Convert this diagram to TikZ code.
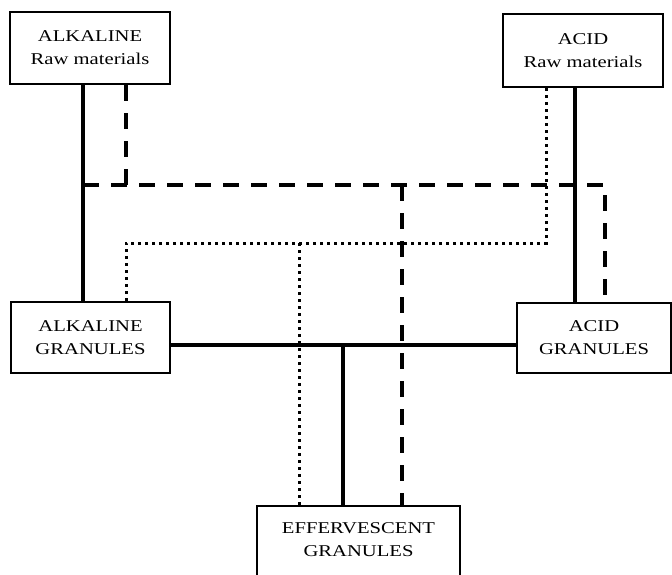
\documentclass[tikz,border=0pt]{standalone}
\usepackage{fontspec}
\setmainfont{Liberation Serif}[FakeStretch=1.25]
\begin{document}
\begin{tikzpicture}[x=1pt,y=-1pt,
  box/.style={draw,line width=2pt,fill=white,align=center,inner sep=0pt,
    font=\fontsize{16.5}{23}\selectfont},
  solidline/.style={line width=3.4pt},
  dashline/.style={line width=3.4pt,dash pattern=on 16pt off 12pt},
  dotline/.style={line width=3pt,dash pattern=on 3pt off 4pt}]
\useasboundingbox (0,0) rectangle (672,574);
\clip (0,0) rectangle (672,574);
% coordinates of junctions
\coordinate (dL) at (83,185);
\coordinate (dK) at (126,185);
\coordinate (dM) at (402,185);
\coordinate (dR) at (605,185);
\coordinate (pR) at (546,243);
\coordinate (pL) at (126,243);
\coordinate (pM) at (299,243);
\coordinate (sM) at (343,345);
% nodes
\node[box,minimum width=160pt,minimum height=72pt] (alkraw) at (90,48) {ALKALINE\\Raw materials};
\node[box,minimum width=160pt,minimum height=73pt] (acidraw) at (583,50.5) {ACID\\Raw materials};
\node[box,minimum width=159pt,minimum height=71pt] (alkgran) at (90.5,337.5) {ALKALINE\\GRANULES};
\node[box,minimum width=154pt,minimum height=70pt] (acidgran) at (594,337.5) {ACID\\GRANULES};
\node[box,minimum width=203pt,anchor=north,text depth=40pt] (effgran) at (358.5,505) {\rule{0pt}{27pt}EFFERVESCENT\\GRANULES};
% solid lines
\draw[solidline] ([xshift=-7pt]alkraw.south) -- ([xshift=-7.5pt]alkgran.north);
\draw[solidline] ([xshift=-8pt]acidraw.south) -- ([xshift=-19pt]acidgran.north);
\draw[solidline] ([yshift=-7.5pt]alkgran.east) -- ([yshift=-7.5pt]acidgran.west);
\draw[solidline] (sM) -- ([xshift=-15.5pt]effgran.north);
% dashed lines
\draw[dashline] ([xshift=36pt]alkraw.south) -- (dK);
\draw[dashline] (dL) -- (dR) -- ([xshift=11pt]acidgran.north);
\draw[dashline] (dM) -- ([xshift=43.5pt]effgran.north);
% dotted lines
\draw[dotline] ([xshift=-37pt]acidraw.south) -- (pR) -- (pL) -- ([xshift=35.5pt]alkgran.north);
\draw[dotline] (pM) -- ([xshift=-59.5pt]effgran.north);
\end{tikzpicture}
\end{document}
